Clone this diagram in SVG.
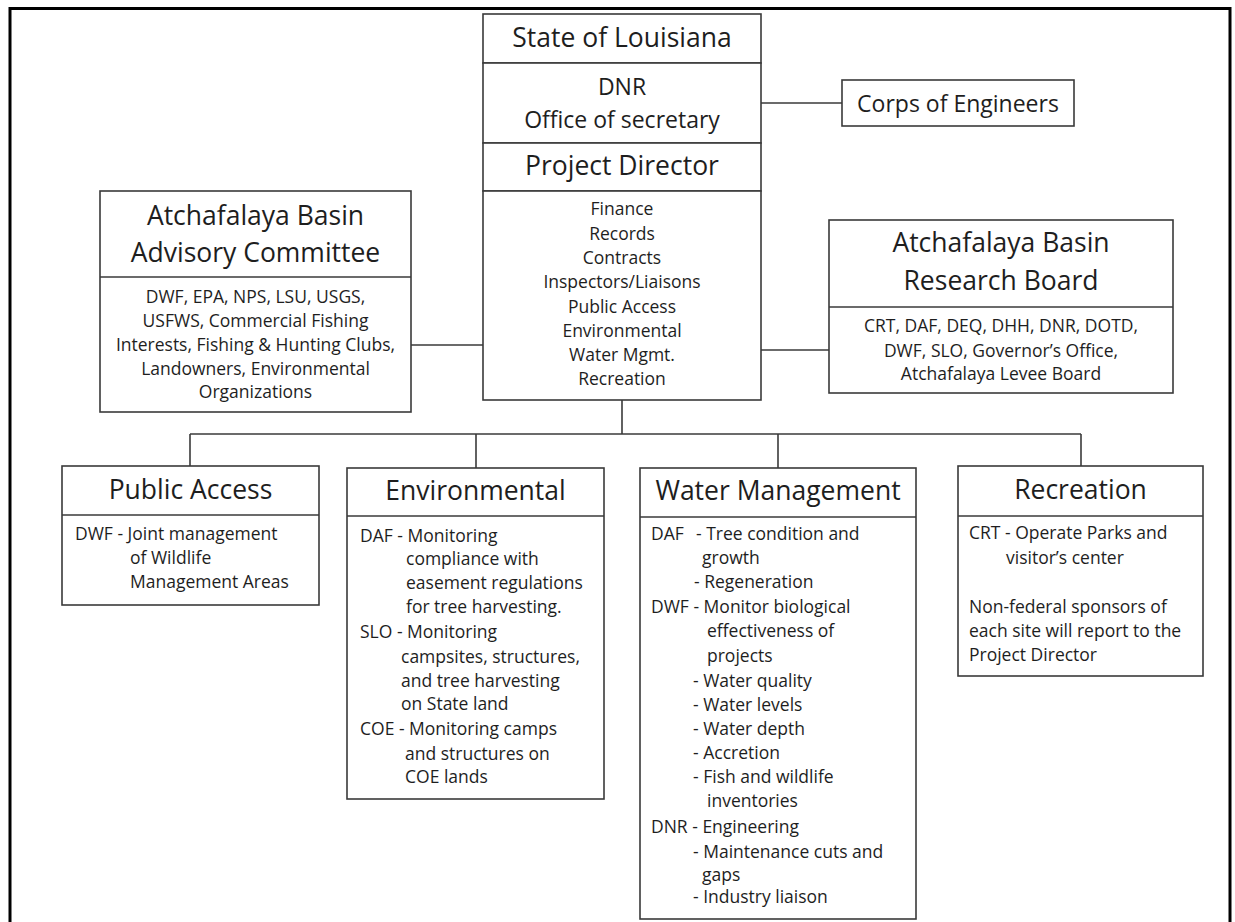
<svg xmlns="http://www.w3.org/2000/svg" width="1235" height="922" viewBox="0 0 1235 922">
<style>
.box{fill:#fff;stroke:#3a3a3a;stroke-width:1.6}
.div{stroke:#3a3a3a;stroke-width:1.6}
.con{stroke:#3a3a3a;stroke-width:1.6;fill:none}
text{font-family:"Open Sans","Liberation Sans",sans-serif;fill:#1e1e1e}
.h{font-size:26.5px;text-anchor:middle}
.m{font-size:23px;text-anchor:middle}
.b{font-size:17.5px}
.bc{font-size:17.5px;text-anchor:middle}
</style>
<rect x="0" y="0" width="1235" height="922" fill="#fff"/>
<rect x="10" y="8.5" width="1220" height="930" fill="none" stroke="#000" stroke-width="3"/>
<g id="connectors">
<line class="con" x1="761" y1="103" x2="842" y2="103"/>
<line class="con" x1="411" y1="345" x2="483" y2="345"/>
<line class="con" x1="761" y1="350" x2="829" y2="350"/>
<line class="con" x1="622" y1="400" x2="622" y2="434"/>
<line class="con" x1="190" y1="434" x2="1081" y2="434"/>
<line class="con" x1="190" y1="434" x2="190" y2="466"/>
<line class="con" x1="476" y1="434" x2="476" y2="468"/>
<line class="con" x1="778" y1="434" x2="778" y2="468"/>
<line class="con" x1="1081" y1="434" x2="1081" y2="466"/>
</g>
<g id="state">
<rect class="box" x="483" y="14" width="278" height="49"/>
<text class="h" x="622" y="47">State of Louisiana</text>
</g>
<g id="dnr">
<rect class="box" x="483" y="63" width="278" height="80"/>
<text class="m" x="622" y="95">DNR</text>
<text class="m" x="622" y="128">Office of secretary</text>
</g>
<g id="project-director">
<rect class="box" x="483" y="143" width="278" height="48"/>
<text class="h" x="622" y="175">Project Director</text>
</g>
<g id="pd-functions">
<rect class="box" x="483" y="191" width="278" height="209"/>
<text class="bc" x="622" y="215">Finance</text>
<text class="bc" x="622" y="240">Records</text>
<text class="bc" x="622" y="264">Contracts</text>
<text class="bc" x="622" y="288">Inspectors/Liaisons</text>
<text class="bc" x="622" y="313">Public Access</text>
<text class="bc" x="622" y="337">Environmental</text>
<text class="bc" x="622" y="361">Water Mgmt.</text>
<text class="bc" x="622" y="385">Recreation</text>
</g>
<g id="corps">
<rect class="box" x="842" y="80" width="232" height="46"/>
<text class="m" x="958" y="112">Corps of Engineers</text>
</g>
<g id="advisory">
<rect class="box" x="100" y="191" width="311" height="221"/>
<line class="div" x1="100" y1="277" x2="411" y2="277"/>
<text class="h" x="255.5" y="225">Atchafalaya Basin</text>
<text class="h" x="255.5" y="262">Advisory Committee</text>
<text class="bc" x="255.5" y="303">DWF, EPA, NPS, LSU, USGS,</text>
<text class="bc" x="255.5" y="327">USFWS, Commercial Fishing</text>
<text class="bc" x="255.5" y="351">Interests, Fishing &amp; Hunting Clubs,</text>
<text class="bc" x="255.5" y="375">Landowners, Environmental</text>
<text class="bc" x="255.5" y="398">Organizations</text>
</g>
<g id="research">
<rect class="box" x="829" y="220" width="344" height="173"/>
<line class="div" x1="829" y1="307" x2="1173" y2="307"/>
<text class="h" x="1001" y="252">Atchafalaya Basin</text>
<text class="h" x="1001" y="290">Research Board</text>
<text class="bc" x="1001" y="332">CRT, DAF, DEQ, DHH, DNR, DOTD,</text>
<text class="bc" x="1001" y="357">DWF, SLO, Governor’s Office,</text>
<text class="bc" x="1001" y="380">Atchafalaya Levee Board</text>
</g>
<g id="public-access">
<rect class="box" x="62" y="466" width="257" height="139"/>
<line class="div" x1="62" y1="515" x2="319" y2="515"/>
<text class="h" x="190.5" y="499">Public Access</text>
<text class="b" x="75" y="540">DWF - Joint management</text>
<text class="b" x="130" y="564">of Wildlife</text>
<text class="b" x="130" y="588">Management Areas</text>
</g>
<g id="environmental">
<rect class="box" x="347" y="468" width="257" height="331"/>
<line class="div" x1="347" y1="516" x2="604" y2="516" stroke-width="2.2"/>
<text class="h" x="475.5" y="500">Environmental</text>
<text class="b" x="360" y="542">DAF - Monitoring</text>
<text class="b" x="406" y="565">compliance with</text>
<text class="b" x="406" y="589">easement regulations</text>
<text class="b" x="406" y="613">for tree harvesting.</text>
<text class="b" x="360" y="638">SLO - Monitoring</text>
<text class="b" x="401" y="663">campsites, structures,</text>
<text class="b" x="401" y="687">and tree harvesting</text>
<text class="b" x="401" y="710">on State land</text>
<text class="b" x="360" y="735">COE - Monitoring camps</text>
<text class="b" x="405" y="760">and structures on</text>
<text class="b" x="405" y="783">COE lands</text>
</g>
<g id="water-management">
<rect class="box" x="640" y="468" width="276" height="451"/>
<line class="div" x1="640" y1="517" x2="916" y2="517"/>
<text class="h" x="778" y="500">Water Management</text>
<text class="b" x="651" y="540">DAF</text>
<text class="b" x="696" y="540">- Tree condition and</text>
<text class="b" x="702" y="564">growth</text>
<text class="b" x="694" y="588">- Regeneration</text>
<text class="b" x="651" y="613">DWF - Monitor biological</text>
<text class="b" x="707" y="637">effectiveness of</text>
<text class="b" x="707" y="662">projects</text>
<text class="b" x="693" y="687">- Water quality</text>
<text class="b" x="693" y="711">- Water levels</text>
<text class="b" x="693" y="735">- Water depth</text>
<text class="b" x="693" y="759">- Accretion</text>
<text class="b" x="693" y="783">- Fish and wildlife</text>
<text class="b" x="707" y="807">inventories</text>
<text class="b" x="651" y="833">DNR - Engineering</text>
<text class="b" x="693" y="858">- Maintenance cuts and</text>
<text class="b" x="702" y="881">gaps</text>
<text class="b" x="693" y="903">- Industry liaison</text>
</g>
<g id="recreation">
<rect class="box" x="958" y="466" width="245" height="210"/>
<line class="div" x1="958" y1="516" x2="1203" y2="516"/>
<text class="h" x="1080.5" y="499">Recreation</text>
<text class="b" x="969" y="539">CRT - Operate Parks and</text>
<text class="b" x="1006" y="564">visitor’s center</text>
<text class="b" x="969" y="613">Non-federal sponsors of</text>
<text class="b" x="969" y="637">each site will report to the</text>
<text class="b" x="969" y="661">Project Director</text>
</g>
</svg>
